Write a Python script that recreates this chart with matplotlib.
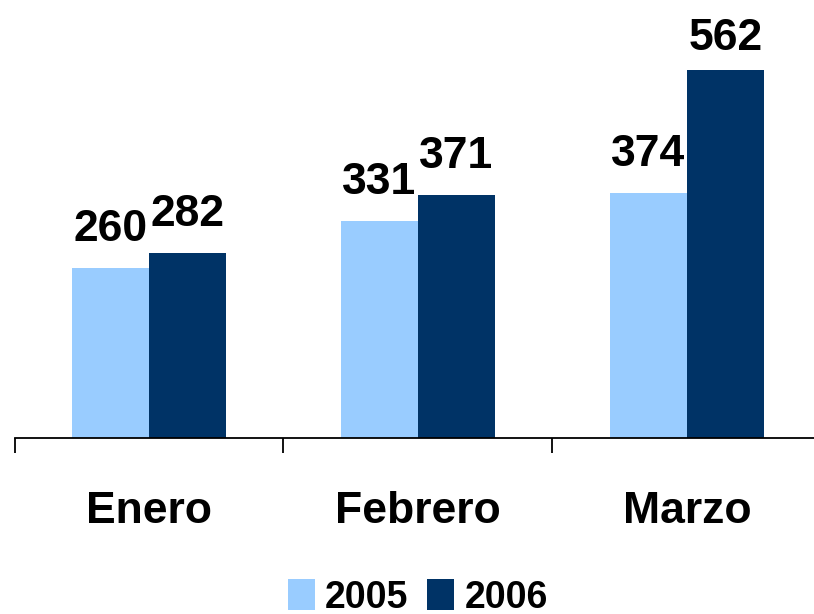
import matplotlib
matplotlib.use('Agg')
import matplotlib.pyplot as plt
import numpy as np

# Data
months = ['Enero', 'Febrero', 'Marzo']
series_2005 = [260, 331, 374]
series_2006 = [282, 371, 562]
years = ['2005', '2006']

plt.rcParams['font.family'] = ['Liberation Sans', 'DejaVu Sans']
plt.rcParams['font.weight'] = 'bold'

light = '#99CCFF'
dark = '#003366'

W, H = 814, 614
fig = plt.figure(figsize=(W / 100, H / 100), dpi=100)
left_px, zero_px, step = 14.5, 438, 269
# axes runs slightly past the right edge, like the original
ax = fig.add_axes([left_px / W, (H - zero_px) / H, 3 * step / W, zero_px / H])

x = np.arange(len(months))
bw = 0.286
b1 = ax.bar(x - bw / 2, series_2005, bw, color=light, label=years[0])
b2 = ax.bar(x + bw / 2, series_2006, bw, color=dark, label=years[1])

ax.set_xlim(-0.5, 2.5)
ax.set_ylim(0, 668)

# value labels above bars (capped near the top like the original)
for bars, vals in ((b1, series_2005), (b2, series_2006)):
    for rect, v in zip(bars, vals):
        ax.text(rect.get_x() + rect.get_width() / 2, min(v + 41, 592), str(v),
                ha='center', va='baseline', fontsize=32, fontweight='bold')

for s in ('top', 'right', 'left'):
    ax.spines[s].set_visible(False)
ax.spines['bottom'].set_linewidth(1.3)
ax.set_yticks([])
ax.set_xticks(np.arange(-0.5, 3, 1))
ax.set_xticklabels([])
ax.set_xticks(x, minor=True)
ax.set_xticklabels(months, minor=True, fontsize=32, fontweight='bold')
ax.tick_params(axis='x', which='major', direction='out', length=11, width=1.3)
ax.tick_params(axis='x', which='minor', length=0, pad=38)

fig.legend(loc='upper center', bbox_to_anchor=(418 / W, 1 - 579 / H), ncol=2,
           frameon=False, fontsize=27, handlelength=0.72, handleheight=0.9,
           handletextpad=0.27, columnspacing=0.5, borderaxespad=0, borderpad=0)

fig.savefig('out.png', dpi=100)
